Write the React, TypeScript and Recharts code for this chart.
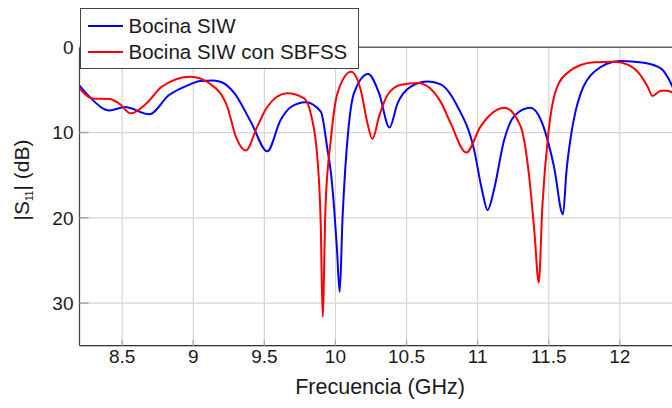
import React from 'react';
import { LineChart, Line, XAxis, YAxis, CartesianGrid, ReferenceLine } from 'recharts';

// Bocina SIW (blue)
const freqSiw = [
  8.2, 8.27, 8.41, 8.52, 8.69, 8.83, 8.97, 9.05, 9.14, 9.2, 9.29, 9.41, 9.52, 9.615, 9.687, 9.79,
  9.897, 9.944, 9.97, 9.99, 10.01, 10.03, 10.05, 10.07, 10.09, 10.13, 10.23, 10.307, 10.38, 10.436,
  10.53, 10.65, 10.74, 10.86, 10.975, 11.03, 11.07, 11.115, 11.186, 11.256, 11.37, 11.444, 11.537,
  11.6, 11.625, 11.655, 11.69, 11.725, 11.82, 12.0, 12.17, 12.29, 12.37, 12.4,
];
const s11Siw = [
  4.5, 5.8, 7.4, 7.0, 7.85, 5.6, 4.4, 3.95, 3.9, 4.1, 5.4, 8.9, 12.2, 8.5, 7.0, 6.45,
  7.55, 12.0, 15.0, 18.7, 23.5, 28.7, 20.0, 14.0, 9.8, 5.4, 3.13, 5.4, 9.4, 6.6,
  4.6, 4.0, 4.35, 7.0, 12.0, 16.7, 19.1, 16.7, 10.9, 8.1, 7.1, 8.5, 14.0,
  19.6, 14.5, 10.5, 7.4, 5.4, 2.86, 1.6, 1.8, 2.5, 4.6, 5.8,
];

// Bocina SIW con SBFSS (red)
const freqSbfss = [
  8.2, 8.29, 8.41, 8.48, 8.56, 8.67, 8.78, 8.98, 9.12, 9.24, 9.3, 9.37, 9.45, 9.52, 9.66, 9.78,
  9.826, 9.874, 9.897, 9.91, 9.93, 9.967, 10.014, 10.11, 10.178, 10.225, 10.26, 10.307, 10.366,
  10.46, 10.58, 10.74, 10.81, 10.92, 11.02, 11.116, 11.19, 11.303, 11.36, 11.4, 11.43, 11.455,
  11.5, 11.56, 11.655, 11.725, 11.82, 11.96, 12.06, 12.135, 12.195, 12.23, 12.29, 12.335, 12.37, 12.4,
];
const s11Sbfss = [
  4.8, 6.0, 6.06, 6.6, 7.75, 6.6, 4.6, 3.45, 4.3, 7.0, 10.5, 12.1, 9.3, 7.0, 5.4, 6.0,
  7.75, 13.2, 21.0, 31.6, 18.7, 10.9, 5.4, 2.86, 5.0, 8.9, 10.75, 8.1, 5.6,
  4.4, 4.2, 6.4, 8.9, 12.35, 9.3, 7.55, 7.1, 9.3, 14.8, 21.8, 27.6, 18.7,
  9.7, 4.6, 2.7, 2.07, 1.76, 1.7, 2.07, 3.05, 4.6, 5.7, 5.1, 5.1, 5.3, 5.4,
];

const xTicks = [8.5, 9, 9.5, 10, 10.5, 11, 11.5, 12];
const yTicks = [0, 10, 20, 30];

const seriesNames = ['Bocina SIW', 'Bocina SIW con SBFSS'];
const seriesColors = ['#0000ff', '#ff0000'];

const siwData = freqSiw.map((f, i) => ({ f, s: s11Siw[i] }));
const sbfssData = freqSbfss.map((f, i) => ({ f, s: s11Sbfss[i] }));

const font = '"Liberation Sans", Arial, Helvetica, sans-serif';
const textColor = '#1a1a1a';

export default function App() {
  // fixed so the plot can run right up to the window edge
  return (
    <div
      style={{
        position: 'fixed', left: 8, top: 8, width: 664, height: 392,
        overflow: 'hidden', fontFamily: font, background: '#fff',
      }}
    >
      <LineChart
        width={680}
        height={392}
        margin={{ top: 39.3, right: 11.3, bottom: 24.3, left: 11.5 }}
      >
        <CartesianGrid stroke="#d6d6d6" strokeWidth={1.2} />
        <XAxis
          type="number"
          dataKey="f"
          domain={[8.2, 12.4]}
          ticks={xTicks}
          allowDataOverflow
          height={30}
          tickSize={-6}
          tickMargin={10}
          tickLine={{ stroke: '#a8a8a8', strokeWidth: 1.2 }}
          axisLine={{ stroke: '#333', strokeWidth: 1.2 }}
          tick={{ fill: textColor, fontSize: 19, fontFamily: font }}
        />
        <YAxis
          type="number"
          dataKey="s"
          reversed
          domain={[0, 35]}
          ticks={yTicks}
          allowDataOverflow
          width={60}
          tickSize={-9}
          tickMargin={15}
          tickLine={{ stroke: '#a8a8a8', strokeWidth: 1.5 }}
          axisLine={{ stroke: '#444', strokeWidth: 1.2 }}
          tick={{ fill: textColor, fontSize: 19, fontFamily: font }}
        />
        <ReferenceLine y={0} stroke="#666" strokeWidth={1.5} />
        <Line
          data={siwData}
          dataKey="s"
          type="monotone"
          stroke={seriesColors[0]}
          strokeWidth={2}
          dot={false}
          isAnimationActive={false}
        />
        <Line
          data={sbfssData}
          dataKey="s"
          type="monotone"
          stroke={seriesColors[1]}
          strokeWidth={2}
          dot={false}
          isAnimationActive={false}
        />
      </LineChart>

      {/* legend box, top-left over the plot */}
      <div
        style={{
          position: 'absolute', left: 71.5, top: 0, width: 277, height: 59,
          background: '#fff', border: '1px solid #444', boxSizing: 'content-box',
        }}
      >
        {seriesNames.map((name, i) => (
          <div
            key={name}
            style={{ position: 'absolute', left: 7, top: 4 + i * 26, height: 26, display: 'flex', alignItems: 'center' }}
          >
            <div style={{ width: 35, height: 2.5, background: seriesColors[i] }} />
            <span style={{ marginLeft: 6, fontSize: 20.5, color: textColor, whiteSpace: 'nowrap' }}>{name}</span>
          </div>
        ))}
      </div>

      {/* y axis title */}
      <div style={{ position: 'absolute', left: 14, top: 172, width: 0, height: 0 }}>
        <div
          style={{
            position: 'absolute', left: 0, top: 0, transform: 'translate(-50%, -50%) rotate(-90deg)',
            fontSize: 21, color: textColor, whiteSpace: 'nowrap',
          }}
        >
          |S<span style={{ fontSize: 10, position: 'relative', top: 4 }}>11</span>| (dB)
        </div>
      </div>

      {/* x axis title */}
      <div
        style={{
          position: 'absolute', left: 372, top: 379, transform: 'translate(-50%, -50%)',
          fontSize: 21.5, color: textColor, whiteSpace: 'nowrap',
        }}
      >
        Frecuencia (GHz)
      </div>
    </div>
  );
}
